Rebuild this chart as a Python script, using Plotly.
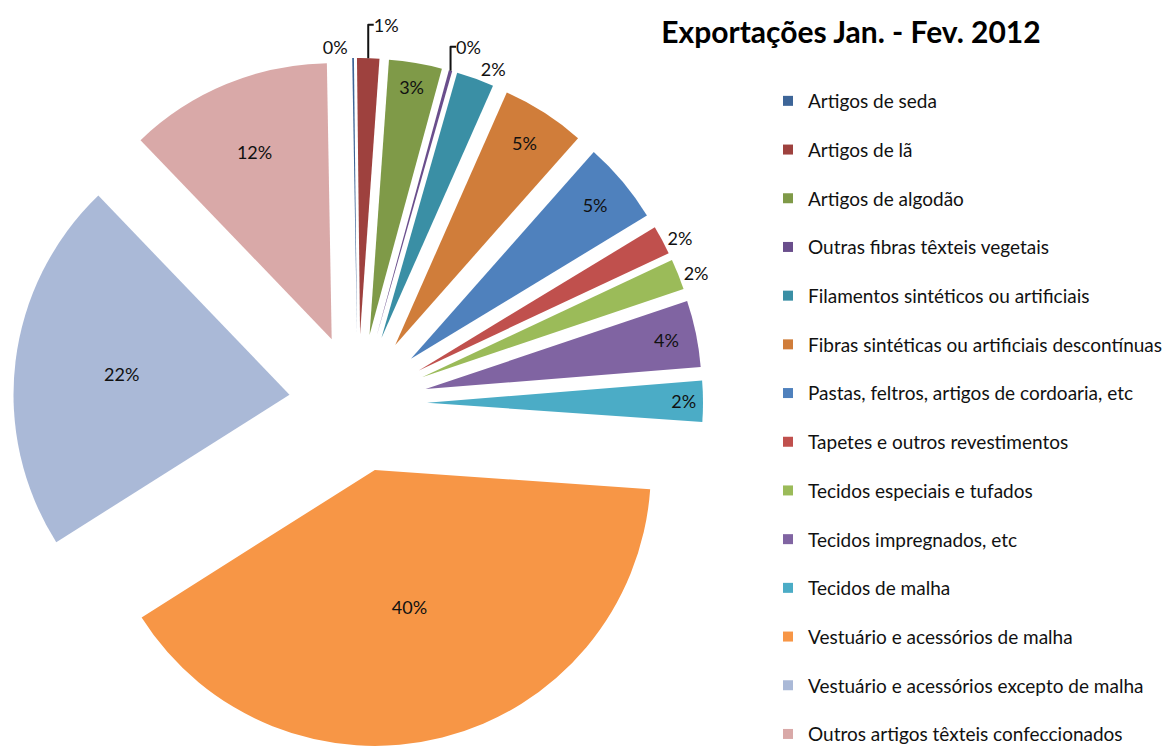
import plotly.graph_objects as go

labels = [
    "Artigos de seda",
    "Artigos de lã",
    "Artigos de algodão",
    "Outras fibras têxteis vegetais",
    "Filamentos sintéticos ou artificiais",
    "Fibras sintéticas ou artificiais descontínuas",
    "Pastas, feltros, artigos de cordoaria, etc",
    "Tapetes e outros revestimentos",
    "Tecidos especiais e tufados",
    "Tecidos impregnados, etc",
    "Tecidos de malha",
    "Vestuário e acessórios de malha",
    "Vestuário e acessórios excepto de malha",
    "Outros artigos têxteis confeccionados",
]
values = [0.1, 1.3, 3.1, 0.2, 2.2, 4.9, 4.8, 1.7, 1.8, 3.9, 2.4, 39.9, 21.8, 11.9]
colors = [
    "#3D6598", "#9E413E", "#7F9A48", "#6A4E8C", "#3A8FA5", "#D07D3A", "#4F81BD",
    "#C0504D", "#9BBB59", "#8064A2", "#4BACC6", "#F79646", "#AAB9D7", "#D9A9A8",
]
text_pos = ["outside", "outside", "inside", "outside", "outside", "inside", "inside",
            "outside", "outside", "inside", "inside", "inside", "inside", "inside"]
title_text = "Exportações Jan. - Fev. 2012"

FONT = "Lato"

fig = go.Figure()
fig.add_trace(go.Pie(
    labels=labels,
    values=values,
    sort=False,
    direction="clockwise",
    rotation=-1,
    pull=[0.25] * len(values),
    marker=dict(colors=colors, line=dict(width=0)),
    texttemplate="%{percent:.0%}",
    textposition=text_pos,
    insidetextorientation="horizontal",
    textfont=dict(family=FONT, size=18, color="#111111"),
    showlegend=False,
    domain=dict(x=[5 / 1173, 695 / 1173], y=[8 / 748, 698 / 748]),
    hoverinfo="label+percent",
))

# legend entries, one group per category for spacing
for lab, col in zip(labels, colors):
    fig.add_trace(go.Scatter(
        x=[None], y=[None], mode="markers",
        marker=dict(symbol="square", size=10, color=col),
        name=lab, legendgroup=lab, showlegend=True, hoverinfo="skip",
    ))

fig.update_layout(
    width=1173, height=748,
    margin=dict(l=0, r=0, t=0, b=0, autoexpand=False),
    paper_bgcolor="white", plot_bgcolor="white",
    xaxis=dict(visible=False), yaxis=dict(visible=False),
    title=dict(text="<b>" + title_text + "</b>", x=843 / 1173, xanchor="center",
               xref="paper", yref="paper",
               y=1 - 24 / 748, yanchor="middle",
               font=dict(family=FONT, size=30, color="#000000")),
    legend=dict(
        x=760 / 1173, xanchor="left", y=1 - 74 / 748, yanchor="top",
        font=dict(family=FONT, size=19, color="#111111"),
        tracegroupgap=21, bgcolor="rgba(0,0,0,0)", itemclick=False,
    ),
    uniformtext=dict(minsize=18, mode="show"),
)

fig.write_html("out.html")
